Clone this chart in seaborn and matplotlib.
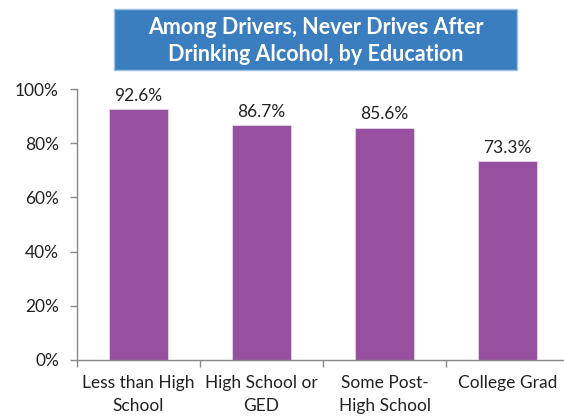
import matplotlib
matplotlib.use("Agg")
import matplotlib.pyplot as plt
import seaborn as sns
import pandas as pd
from matplotlib.patches import Rectangle
from matplotlib.ticker import PercentFormatter

# data
categories = ["Less than High\nSchool", "High School or\nGED", "Some Post-\nHigh School", "College Grad"]
values = [0.926, 0.867, 0.856, 0.733]
value_labels = ["92.6%", "86.7%", "85.6%", "73.3%"]
title = "Among Drivers, Never Drives After\nDrinking Alcohol, by Education"

df = pd.DataFrame({"education": categories, "share": values})

sns.set_style("white")
plt.rcParams["font.family"] = ["Lato", "DejaVu Sans"]

fig = plt.figure(figsize=(5.64, 4.2), dpi=100)
ax = fig.add_axes([0.1365, 0.143, 0.8725, 0.645])

sns.barplot(data=df, x="education", y="share", color="#974FA0", saturation=1,
            width=0.48, edgecolor="#E6D3EA", linewidth=0.6, ax=ax)

#labels above the bars
ax.bar_label(ax.containers[0], labels=value_labels, padding=4, fontsize=12.5, color="#222222")

ax.set_ylim(0, 1)
ax.set_xlim(-0.5, 3.5)
ax.set_yticks([0, 0.2, 0.4, 0.6, 0.8, 1.0])
ax.yaxis.set_major_formatter(PercentFormatter(1.0, decimals=0))
ax.set_xlabel("")
ax.set_ylabel("")

#ticks at category boundaries, labels at centres
ax.set_xticks([0, 1, 2, 3])
ax.set_xticklabels(categories, linespacing=1.55)
ax.set_xticks([-0.5, 0.5, 1.5, 2.5, 3.5], minor=True)
ax.tick_params(axis="x", which="major", length=0, labelsize=12.5, pad=11, colors="#222222")
ax.tick_params(axis="x", which="minor", length=5, direction="out", color="#888888", width=1)
ax.tick_params(axis="y", length=5, direction="out", color="#888888", width=1,
               labelsize=12.5, labelcolor="#222222", pad=8)
ax.tick_params(axis="x", bottom=True, which="both")
ax.tick_params(axis="y", left=True)

for s in ["top", "right"]:
    ax.spines[s].set_visible(False)
for s in ["left", "bottom"]:
    ax.spines[s].set_color("#888888")
    ax.spines[s].set_linewidth(1)

#title box
box = Rectangle((114 / 564, 1 - 70 / 420), (517 - 114) / 564, (70 - 9) / 420,
                transform=fig.transFigure, facecolor="#3A7EBF", edgecolor="#9DC3E6",
                linewidth=1, zorder=5)
fig.patches.append(box)
fig.text(315.5 / 564, 1 - 41 / 420, title, ha="center", va="center", color="white",
         fontsize=15.5, fontweight="bold", linespacing=1.35, zorder=6)

fig.savefig("out.png", dpi=100)
